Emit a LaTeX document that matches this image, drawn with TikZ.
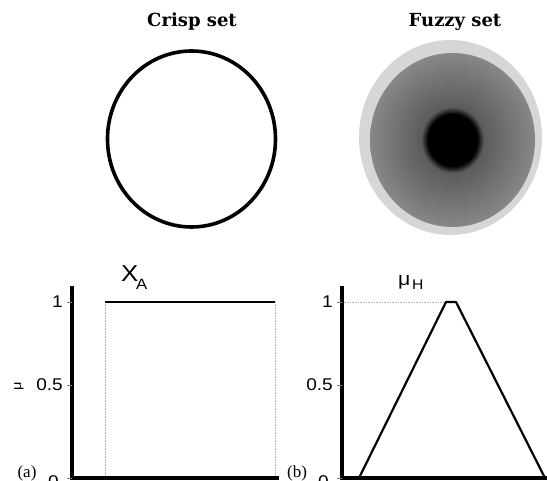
\documentclass[tikz,border=0pt]{standalone}
\usepackage{fontspec}
\setmainfont{Liberation Serif}
\newfontfamily\titlefont{DejaVu Serif}
\newfontfamily\axfont[FakeStretch=1.12]{Liberation Sans}
\pgfdeclareradialshading{fuzzyshade}{\pgfpoint{0bp}{0bp}}{%
  color(0bp)=(black); color(7.5bp)=(black); color(9.5bp)=(black!64);
  color(25bp)=(black!47); color(50bp)=(black!33); color(100bp)=(black!33)}
\begin{document}
\begin{tikzpicture}[x=1pt,y=-1pt,
  title/.style={font=\titlefont\bfseries\fontsize{18}{20}\selectfont, inner sep=0pt},
  axlab/.style={font=\axfont\fontsize{17}{19}\selectfont, inner sep=0pt, anchor=east},
  panlab/.style={font=\fontsize{17}{19}\selectfont, inner sep=0pt},
  axisline/.style={line width=3.5pt},
  curve/.style={line width=2.2pt, line join=round},
  guide/.style={gray!60, densely dotted, line width=0.6pt}]
\useasboundingbox (0,0) rectangle (547,481);
% titles
\node[title] (t1) at (192,22) {Crisp set};
\node[title] (t2) at (455,22) {Fuzzy set};
% crisp set
\draw[line width=3.6pt] (191.5,139) ellipse [x radius=84, y radius=88];
% fuzzy set
\fill[black!16] (450.5,137.5) ellipse [x radius=91.5, y radius=97.5];
\shade[shading=fuzzyshade] (452.5,140) ellipse [x radius=82.5, y radius=87];
% ---- plot (a)
\coordinate (a0) at (72,478);
\coordinate (ay) at (72,286);
\coordinate (ax) at (279,478);
\coordinate (al) at (105,302);
\coordinate (ar) at (275,302);
\coordinate (alb) at (105,478);
\coordinate (arb) at (275,478);
\draw[guide] (al) -- (alb);
\draw[guide] (ar) -- (arb);
\draw[curve] (al) -- (ar);
\draw[axisline] (ay) -- (a0) -- (ax);
\draw[gray, line width=0.5pt] (72,302) -- ++(-5,0) (72,385) -- ++(-5,0) (72,478) -- ++(-5,0);
\node[axlab] (a1) at (63,302) {1};
\node[axlab] (a05) at (63,385) {0.5};
\node[axlab] (a00) at (59,482) {0};
\node[font=\axfont\fontsize{13}{15}\selectfont, rotate=90, inner sep=0pt] (mu) at (19,386) {μ};
\node[panlab] (pa) at (27,473) {(a)};
\node[font=\axfont\fontsize{23}{25}\selectfont, inner sep=0pt, anchor=base west] (xa) at (121,282) {X};
\node[font=\axfont\fontsize{15}{17}\selectfont, inner sep=0pt, anchor=base west] (xs) at (136,290) {A};
% ---- plot (b)
\coordinate (b0) at (342,478);
\coordinate (by) at (342,286);
\coordinate (bx) at (547,478);
\coordinate (p1) at (359,478);
\coordinate (p2) at (446,302);
\coordinate (p3) at (456,302);
\coordinate (p4) at (545,478);
\coordinate (b1) at (342,302);
\draw[guide] (b1) -- (p2);
\draw[curve] (p1) -- (p2) -- (p3) -- (p4);
\draw[axisline] (by) -- (b0) -- (bx);
\draw[gray, line width=0.5pt] (342,302) -- ++(-5,0) (342,385) -- ++(-5,0) (342,478) -- ++(-5,0);
\node[axlab] (bl1) at (333,302) {1};
\node[axlab] (bl05) at (333,385) {0.5};
\node[axlab] (bl00) at (329,482) {0};
\node[panlab] (pb) at (297,473) {(b)};
\node[font=\axfont\fontsize{19}{21}\selectfont, inner sep=0pt, anchor=base west] (muh) at (398,286) {μ};
\node[font=\axfont\fontsize{14}{16}\selectfont, inner sep=0pt, anchor=base west] (muhs) at (412,290) {H};
\end{tikzpicture}
\end{document}
